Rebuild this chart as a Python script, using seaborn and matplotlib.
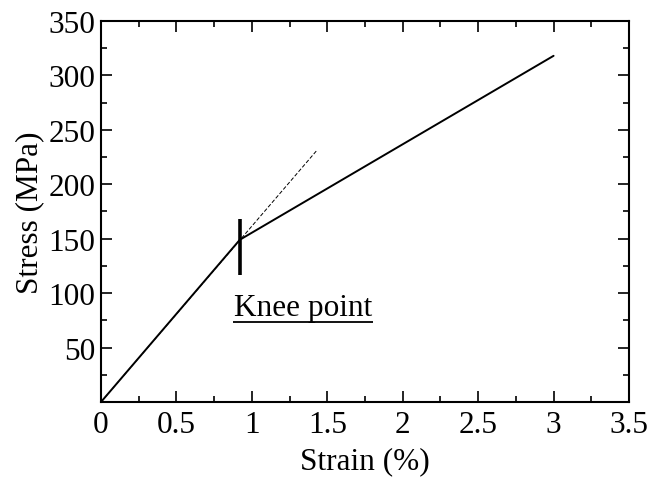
import matplotlib
matplotlib.use("Agg")
from matplotlib import pyplot as plt
from matplotlib.ticker import MultipleLocator
import pandas as pd
import seaborn as sns

# measured curve (piecewise: elastic part then after knee)
strain = [0.0, 0.92, 3.0]
stress = [0.0, 149.0, 318.0]

# extrapolated elastic slope (dashed)
ext_strain = [0.0, 1.43]
ext_stress = [0.0, 231.0]

# knee point marker
knee_x = 0.92
knee_ymin, knee_ymax = 117.0, 168.0
knee_label = "Knee point"

sns.set_style("ticks", {'text.color': 'black', 'axes.labelcolor': 'black',
                        'xtick.color': 'black', 'ytick.color': 'black',
                        'axes.edgecolor': 'black'})
plt.rcParams['font.family'] = ['Liberation Serif', 'DejaVu Serif']

df = pd.DataFrame({'strain': strain, 'stress': stress})
df_ext = pd.DataFrame({'strain': ext_strain, 'stress': ext_stress})

fs = 22.5

fig, ax = plt.subplots(figsize=(6.5, 4.81), dpi=100)
sns.lineplot(data=df, x='strain', y='stress', ax=ax, color='black', lw=1.4, sort=False)
sns.lineplot(data=df_ext, x='strain', y='stress', ax=ax, color='black', lw=0.7,
             linestyle=(0, (4, 2)), sort=False)
ax.vlines(knee_x, knee_ymin, knee_ymax, color='black', lw=2.6)
ax.text(1.337, 80, knee_label, fontsize=fs, ha='center', va='baseline', color='black')
# underline
ax.hlines(73.5, 0.875, 1.80, color='black', lw=1.3)

ax.set_xlim(0, 3.5)
ax.set_ylim(0, 350)
ax.xaxis.set_major_locator(MultipleLocator(0.5))
ax.xaxis.set_minor_locator(MultipleLocator(0.25))
ax.yaxis.set_major_locator(MultipleLocator(50))
ax.yaxis.set_minor_locator(MultipleLocator(25))
ax.set_xticks([0, 0.5, 1, 1.5, 2, 2.5, 3, 3.5])
ax.set_xticklabels(['0', '0.5', '1', '1.5', '2', '2.5', '3', '3.5'])
ax.set_yticks([50, 100, 150, 200, 250, 300, 350])
ax.tick_params(which='both', direction='in', top=True, right=True, width=1.2,
               labelsize=fs, colors='black')
ax.tick_params(axis='x', pad=6)
ax.tick_params(axis='y', pad=4)
ax.tick_params(which='major', length=8)
ax.tick_params(which='minor', length=4.5)
for s in ax.spines.values():
    s.set_linewidth(1.5)
    s.set_color('black')
ax.set_xlabel('Strain (%)', fontsize=fs, labelpad=5)
ax.set_ylabel('Stress (MPa)', fontsize=fs, labelpad=3)

plt.subplots_adjust(left=0.1554, right=0.9677, bottom=0.1622, top=0.9543)
plt.savefig('out.png', dpi=100)
